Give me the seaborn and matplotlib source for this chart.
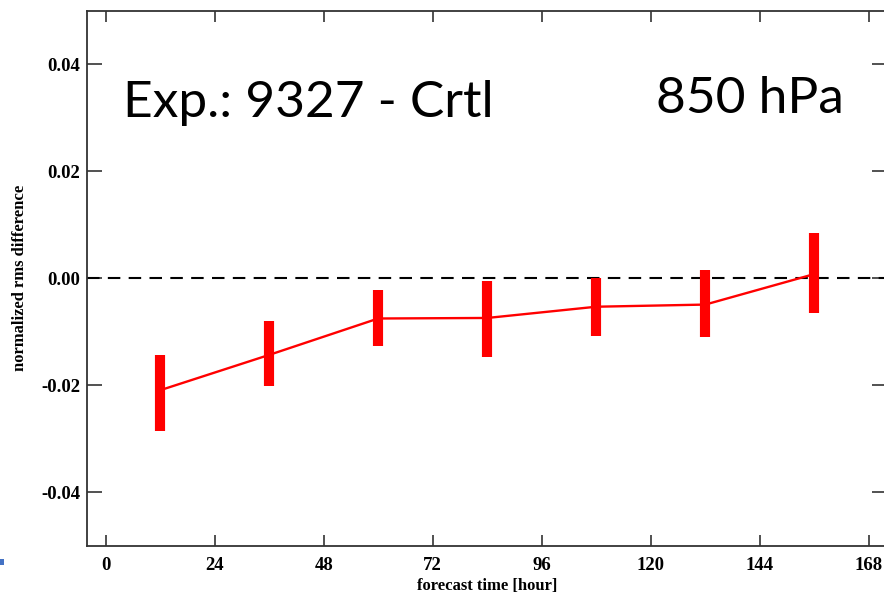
import numpy as np
import pandas as pd
import matplotlib
matplotlib.use("Agg")
import matplotlib.pyplot as plt
from matplotlib.patches import Rectangle
import seaborn as sns

# ---- data ----
forecast_hours = [12, 36, 60, 84, 108, 132, 156]
mean_diff = [-0.0209, -0.0143, -0.0075, -0.0074, -0.0053, -0.0049, 0.0008]
lower_bound = [-0.0285, -0.0202, -0.0127, -0.0147, -0.0107, -0.0110, -0.0065]
upper_bound = [-0.0143, -0.0080, -0.0022, -0.0005, 0.0000, 0.0015, 0.0084]
x_ticks = [0, 24, 48, 72, 96, 120, 144, 168]
y_ticks = [-0.04, -0.02, 0.00, 0.02, 0.04]
y_tick_labels = ["-0.04", "-0.02", "0.00", "0.02", "0.04"]

df = pd.DataFrame({"hour": forecast_hours, "diff": mean_diff})

sns.set_theme(style="ticks")
plt.rcParams['font.family'] = ['DejaVu Sans']

W, H = 884, 597
fig = plt.figure(figsize=(W / 100, H / 100), dpi=100)
left, right, top, bottom = 87, 887, 10.7, 546
ax = fig.add_axes([left / W, (H - bottom) / H, (right - left) / W, (bottom - top) / H])

# zero reference line
ax.axhline(0, color="black", lw=1.5, ls=(0, (6, 4)), zorder=1)

# line through means
sns.lineplot(data=df, x="hour", y="diff", color="red", lw=1.7, ax=ax, zorder=3)

# range bars
ax.vlines(forecast_hours, lower_bound, upper_bound, color="red", lw=7.3,
          capstyle="butt", zorder=4)

ax.set_xlim(-4.1, 172.0)
ax.set_ylim(-0.05, 0.05)
ax.set_xticks(x_ticks)
ax.set_xticklabels([str(t) for t in x_ticks])
ax.set_yticks(y_ticks)
ax.set_yticklabels(y_tick_labels)

serif = ['Liberation Serif', 'DejaVu Serif']
for lab in ax.get_xticklabels() + ax.get_yticklabels():
    lab.set_fontfamily(serif)
    lab.set_fontweight("bold")
    lab.set_fontsize(13.5)
    lab.set_color("black")

ax.tick_params(axis="x", direction="in", length=8, width=1.2, top=True, bottom=True,
               pad=8, colors="#333333", labelcolor="black")
ax.tick_params(axis="y", direction="in", length=11, width=1.2, left=True, right=True,
               pad=5, colors="#333333", labelcolor="black")
for s in ax.spines.values():
    s.set_visible(True)
    s.set_linewidth(1.3)
    s.set_color("#333333")

ax.set_xlabel("forecast time [hour]", fontfamily=serif, fontweight="bold",
              fontsize=12, labelpad=3, color="black")
ax.set_ylabel("normalized rms difference", fontfamily=serif, fontweight="bold",
              fontsize=12, labelpad=9, color="black")

ax.text(3.8, 0.0302, "Exp.: 9327 - Crtl", fontsize=37, va="baseline", ha="left",
        color="black", fontfamily=['Lato', 'DejaVu Sans'])
ax.text(121.2, 0.0309, "850 hPa", fontsize=37, va="baseline", ha="left",
        color="black", fontfamily=['Lato', 'DejaVu Sans'])

# small blue mark at lower-left
fig.add_artist(Rectangle((0, (H - 565) / H), 4 / W, 6 / H, transform=fig.transFigure,
                         color="#4472C4", lw=0))

fig.savefig("out.png", dpi=100)
